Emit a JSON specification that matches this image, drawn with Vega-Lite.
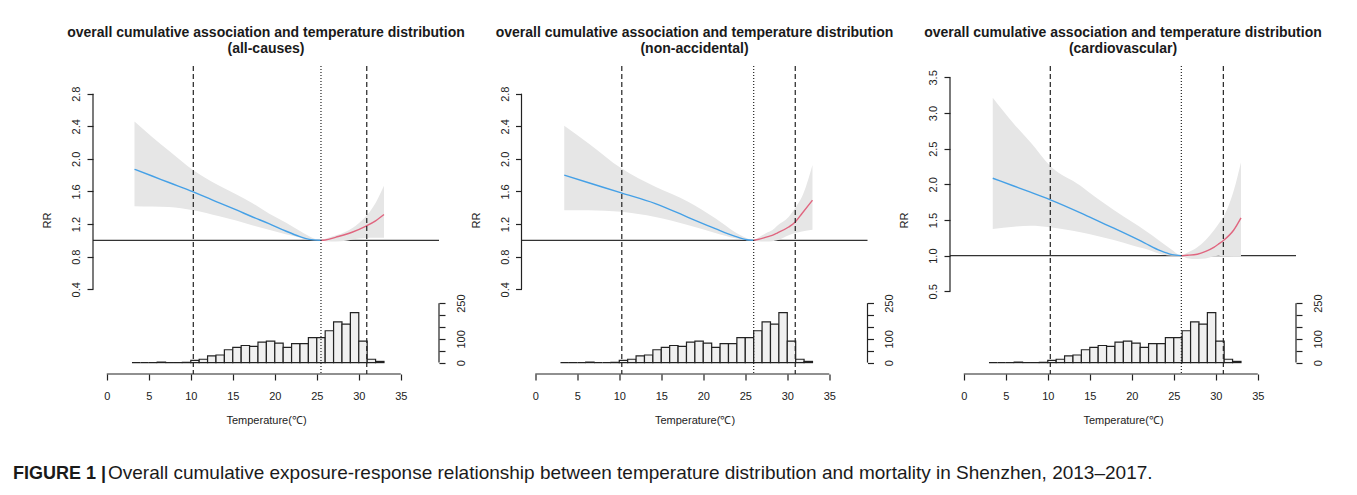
{
  "$schema": "https://vega.github.io/schema/vega-lite/v6.json",
  "padding": {"left": 13, "top": 26, "right": 5, "bottom": 5},
  "datasets": {
    "hist": [
      {"b0": 3, "b1": 4, "n": 0}, {"b0": 4, "b1": 5, "n": 0}, {"b0": 5, "b1": 6, "n": 0},
      {"b0": 6, "b1": 7, "n": 2}, {"b0": 7, "b1": 8, "n": 0}, {"b0": 8, "b1": 9, "n": 0},
      {"b0": 9, "b1": 10, "n": 1}, {"b0": 10, "b1": 11, "n": 9}, {"b0": 11, "b1": 12, "n": 14},
      {"b0": 12, "b1": 13, "n": 28}, {"b0": 13, "b1": 14, "n": 32}, {"b0": 14, "b1": 15, "n": 54},
      {"b0": 15, "b1": 16, "n": 64}, {"b0": 16, "b1": 17, "n": 72}, {"b0": 17, "b1": 18, "n": 68},
      {"b0": 18, "b1": 19, "n": 86}, {"b0": 19, "b1": 20, "n": 90}, {"b0": 20, "b1": 21, "n": 82},
      {"b0": 21, "b1": 22, "n": 64}, {"b0": 22, "b1": 23, "n": 80}, {"b0": 23, "b1": 24, "n": 80},
      {"b0": 24, "b1": 25, "n": 105}, {"b0": 25, "b1": 26, "n": 105}, {"b0": 26, "b1": 27, "n": 134},
      {"b0": 27, "b1": 28, "n": 171}, {"b0": 28, "b1": 29, "n": 162}, {"b0": 29, "b1": 30, "n": 210},
      {"b0": 30, "b1": 31, "n": 90}, {"b0": 31, "b1": 32, "n": 14}, {"b0": 32, "b1": 33, "n": 5}
    ],
    "vl": [
      {"p": "a", "t": 10.3, "k": "dash"}, {"p": "a", "t": 30.95, "k": "dash"}, {"p": "a", "t": 25.5, "k": "dot"},
      {"p": "b", "t": 10.3, "k": "dash"}, {"p": "b", "t": 30.95, "k": "dash"}, {"p": "b", "t": 26.0, "k": "dot"},
      {"p": "c", "t": 10.3, "k": "dash"}, {"p": "c", "t": 30.9, "k": "dash"}, {"p": "c", "t": 25.9, "k": "dot"}
    ],
    "curve": [
      {"p": "a", "t": 3.3, "rr": 1.872, "lo": 1.42, "hi": 2.46, "s": "c"},
      {"p": "a", "t": 5.4, "rr": 1.79, "lo": 1.415, "hi": 2.27, "s": "c"},
      {"p": "a", "t": 7.4, "rr": 1.71, "lo": 1.41, "hi": 2.1, "s": "c"},
      {"p": "a", "t": 10.3, "rr": 1.596, "lo": 1.37, "hi": 1.86, "s": "c"},
      {"p": "a", "t": 13.4, "rr": 1.46, "lo": 1.296, "hi": 1.67, "s": "c"},
      {"p": "a", "t": 15.5, "rr": 1.37, "lo": 1.24, "hi": 1.56, "s": "c"},
      {"p": "a", "t": 17.3, "rr": 1.29, "lo": 1.185, "hi": 1.46, "s": "c"},
      {"p": "a", "t": 19.3, "rr": 1.206, "lo": 1.13, "hi": 1.33, "s": "c"},
      {"p": "a", "t": 21.3, "rr": 1.115, "lo": 1.074, "hi": 1.22, "s": "c"},
      {"p": "a", "t": 22.9, "rr": 1.05, "lo": 1.035, "hi": 1.12, "s": "c"},
      {"p": "a", "t": 24.1, "rr": 1.012, "lo": 1.005, "hi": 1.05, "s": "c"},
      {"p": "a", "t": 25.5, "rr": 1.0, "lo": 1.0, "hi": 1.0, "s": "m"},
      {"p": "a", "t": 26.0, "rr": 1.005, "lo": 0.99, "hi": 1.02, "s": "h"},
      {"p": "a", "t": 27.3, "rr": 1.04, "lo": 0.985, "hi": 1.062, "s": "h"},
      {"p": "a", "t": 28.5, "rr": 1.075, "lo": 0.995, "hi": 1.11, "s": "h"},
      {"p": "a", "t": 29.2, "rr": 1.1, "lo": 1.01, "hi": 1.15, "s": "h"},
      {"p": "a", "t": 30.8, "rr": 1.173, "lo": 1.03, "hi": 1.29, "s": "h"},
      {"p": "a", "t": 32.0, "rr": 1.24, "lo": 1.033, "hi": 1.46, "s": "h"},
      {"p": "a", "t": 33.0, "rr": 1.317, "lo": 1.033, "hi": 1.67, "s": "h"},
      {"p": "b", "t": 3.45, "rr": 1.8, "lo": 1.37, "hi": 2.406, "s": "c"},
      {"p": "b", "t": 6.35, "rr": 1.707, "lo": 1.37, "hi": 2.19, "s": "c"},
      {"p": "b", "t": 10.24, "rr": 1.583, "lo": 1.35, "hi": 1.884, "s": "c"},
      {"p": "b", "t": 14.29, "rr": 1.452, "lo": 1.287, "hi": 1.657, "s": "c"},
      {"p": "b", "t": 18.25, "rr": 1.28, "lo": 1.185, "hi": 1.472, "s": "c"},
      {"p": "b", "t": 21.43, "rr": 1.144, "lo": 1.09, "hi": 1.27, "s": "c"},
      {"p": "b", "t": 23.8, "rr": 1.05, "lo": 1.025, "hi": 1.1, "s": "c"},
      {"p": "b", "t": 25.2, "rr": 1.008, "lo": 1.003, "hi": 1.025, "s": "c"},
      {"p": "b", "t": 26.0, "rr": 1.0, "lo": 1.0, "hi": 1.0, "s": "m"},
      {"p": "b", "t": 26.5, "rr": 1.01, "lo": 0.99, "hi": 1.03, "s": "h"},
      {"p": "b", "t": 27.5, "rr": 1.04, "lo": 0.985, "hi": 1.09, "s": "h"},
      {"p": "b", "t": 28.2, "rr": 1.062, "lo": 0.99, "hi": 1.123, "s": "h"},
      {"p": "b", "t": 28.8, "rr": 1.09, "lo": 1.0, "hi": 1.18, "s": "h"},
      {"p": "b", "t": 30.16, "rr": 1.164, "lo": 1.062, "hi": 1.287, "s": "h"},
      {"p": "b", "t": 30.95, "rr": 1.226, "lo": 1.09, "hi": 1.4, "s": "h"},
      {"p": "b", "t": 31.75, "rr": 1.33, "lo": 1.11, "hi": 1.534, "s": "h"},
      {"p": "b", "t": 33.0, "rr": 1.493, "lo": 1.13, "hi": 1.925, "s": "h"},
      {"p": "c", "t": 3.45, "rr": 2.086, "lo": 1.375, "hi": 3.215, "s": "c"},
      {"p": "c", "t": 5.95, "rr": 1.977, "lo": 1.407, "hi": 2.85, "s": "c"},
      {"p": "c", "t": 7.94, "rr": 1.89, "lo": 1.42, "hi": 2.59, "s": "c"},
      {"p": "c", "t": 10.24, "rr": 1.787, "lo": 1.4, "hi": 2.264, "s": "c"},
      {"p": "c", "t": 13.9, "rr": 1.6, "lo": 1.328, "hi": 1.98, "s": "c"},
      {"p": "c", "t": 15.9, "rr": 1.49, "lo": 1.275, "hi": 1.8, "s": "c"},
      {"p": "c", "t": 17.86, "rr": 1.385, "lo": 1.22, "hi": 1.64, "s": "c"},
      {"p": "c", "t": 20.2, "rr": 1.255, "lo": 1.14, "hi": 1.46, "s": "c"},
      {"p": "c", "t": 21.5, "rr": 1.18, "lo": 1.1, "hi": 1.36, "s": "c"},
      {"p": "c", "t": 23.4, "rr": 1.07, "lo": 1.024, "hi": 1.2, "s": "c"},
      {"p": "c", "t": 24.8, "rr": 1.014, "lo": 1.0, "hi": 1.08, "s": "c"},
      {"p": "c", "t": 25.9, "rr": 1.0, "lo": 1.0, "hi": 1.0, "s": "m"},
      {"p": "c", "t": 26.6, "rr": 1.005, "lo": 0.965, "hi": 1.04, "s": "h"},
      {"p": "c", "t": 27.8, "rr": 1.02, "lo": 0.953, "hi": 1.117, "s": "h"},
      {"p": "c", "t": 28.8, "rr": 1.06, "lo": 0.96, "hi": 1.22, "s": "h"},
      {"p": "c", "t": 29.76, "rr": 1.117, "lo": 0.99, "hi": 1.351, "s": "h"},
      {"p": "c", "t": 30.3, "rr": 1.16, "lo": 1.0, "hi": 1.44, "s": "h"},
      {"p": "c", "t": 30.88, "rr": 1.21, "lo": 0.99, "hi": 1.538, "s": "h"},
      {"p": "c", "t": 32.14, "rr": 1.36, "lo": 0.985, "hi": 1.913, "s": "h"},
      {"p": "c", "t": 33.0, "rr": 1.53, "lo": 0.985, "hi": 2.31, "s": "h"}
    ]
  },
  "columns": 3,
  "bounds": "flush",
  "align": "none",
  "spacing": {"row": 104, "column": 82.5},
  "concat": [
    {
      "width": 346, "height": 308,
      "title": {"text": ["overall cumulative association and temperature distribution", "(all-causes)"]},
      "layer": [
        {"layer": [
          {"data": {"name": "hist"},
           "mark": {"type": "rect", "fill": "#f0f0f0", "stroke": "#222222", "strokeWidth": 1.2},
           "encoding": {
             "x": {"field": "b0", "type": "quantitative", "scale": {"domain": [-1.64, 39.55], "nice": false, "zero": false},
                   "axis": {"values": [0, 5, 10, 15, 20, 25, 30, 35], "format": "d", "labelPadding": 10, "title": "Temperature(℃)", "titlePadding": 13, "labelFlush": false, "labelOverlap": false}},
             "x2": {"field": "b1"},
             "y": {"field": "n", "type": "quantitative", "scale": {"domain": [-48, 1248], "nice": false, "zero": false},
                   "axis": {"orient": "right", "values": [0, 50, 100, 150, 200, 250], "labelExpr": "datum.value == 0 || datum.value == 100 || datum.value == 250 ? datum.label : ''", "labelAngle": 270, "labelAlign": "center", "labelBaseline": "top", "labelPadding": 10, "title": null, "labelOverlap": false}},
             "y2": {"datum": 0}
           }},
          {"data": {"values": [{}]}, "mark": {"type": "rule", "color": "#222222", "strokeWidth": 1.2},
           "encoding": {"x": {"datum": 39.55}, "y": {"datum": 0}, "y2": {"datum": 250}}}
        ]},
        {"layer": [
          {"data": {"values": [{}]}, "mark": {"type": "rule", "color": "#333333", "strokeWidth": 1.2},
           "encoding": {"y": {"datum": 1, "type": "quantitative", "scale": {"domain": [-0.64, 3.14], "nice": false, "zero": false},
             "axis": {"orient": "left", "values": [0.4, 0.8, 1.2, 1.6, 2.0, 2.4, 2.8], "format": ".1f", "labelAngle": 270, "labelAlign": "center", "labelBaseline": "bottom", "labelPadding": 5.5, "title": "RR", "titlePadding": 18, "labelOverlap": false}}}},
          {"data": {"name": "curve"}, "transform": [{"filter": "datum.p == 'a'"}],
           "mark": {"type": "area", "fill": "#e6e6e6", "interpolate": "monotone"},
           "encoding": {"x": {"field": "t", "type": "quantitative"}, "y": {"field": "lo", "type": "quantitative"}, "y2": {"field": "hi"}}},
          {"data": {"name": "curve"}, "transform": [{"filter": "datum.p == 'a' && datum.s != 'h'"}],
           "mark": {"type": "line", "color": "#45a0e6", "strokeWidth": 1.4, "interpolate": "monotone"},
           "encoding": {"x": {"field": "t", "type": "quantitative"}, "y": {"field": "rr", "type": "quantitative"}}},
          {"data": {"name": "curve"}, "transform": [{"filter": "datum.p == 'a' && datum.s != 'c'"}],
           "mark": {"type": "line", "color": "#e0657f", "strokeWidth": 1.4, "interpolate": "monotone"},
           "encoding": {"x": {"field": "t", "type": "quantitative"}, "y": {"field": "rr", "type": "quantitative"}}},
          {"data": {"name": "vl"}, "transform": [{"filter": "datum.p == 'a' && datum.k == 'dash'"}],
           "mark": {"type": "rule", "color": "#222222", "strokeWidth": 1.2, "strokeDash": [5, 3]},
           "encoding": {"x": {"field": "t", "type": "quantitative"}}},
          {"data": {"name": "vl"}, "transform": [{"filter": "datum.p == 'a' && datum.k == 'dot'"}],
           "mark": {"type": "rule", "color": "#222222", "strokeWidth": 1.2, "strokeDash": [1, 2]},
           "encoding": {"x": {"field": "t", "type": "quantitative"}}},
          {"data": {"values": [{}]}, "mark": {"type": "rule", "color": "#222222", "strokeWidth": 1.2},
           "encoding": {"x": {"datum": -1.64}, "y": {"datum": 0.4}, "y2": {"datum": 2.8}}},
          {"data": {"values": [{}]}, "mark": {"type": "rule", "color": "#222222", "strokeWidth": 1.2},
           "encoding": {"x": {"datum": 0}, "x2": {"datum": 35}, "y": {"datum": -0.64}}}
        ]}
      ],
      "resolve": {"scale": {"y": "independent"}}
    },
    {
      "width": 346, "height": 308,
      "title": {"text": ["overall cumulative association and temperature distribution", "(non-accidental)"]},
      "layer": [
        {"layer": [
          {"data": {"name": "hist"},
           "mark": {"type": "rect", "fill": "#f0f0f0", "stroke": "#222222", "strokeWidth": 1.2},
           "encoding": {
             "x": {"field": "b0", "type": "quantitative", "scale": {"domain": [-1.64, 39.55], "nice": false, "zero": false},
                   "axis": {"values": [0, 5, 10, 15, 20, 25, 30, 35], "format": "d", "labelPadding": 10, "title": "Temperature(℃)", "titlePadding": 13, "labelFlush": false, "labelOverlap": false}},
             "x2": {"field": "b1"},
             "y": {"field": "n", "type": "quantitative", "scale": {"domain": [-48, 1248], "nice": false, "zero": false},
                   "axis": {"orient": "right", "values": [0, 50, 100, 150, 200, 250], "labelExpr": "datum.value == 0 || datum.value == 100 || datum.value == 250 ? datum.label : ''", "labelAngle": 270, "labelAlign": "center", "labelBaseline": "top", "labelPadding": 10, "title": null, "labelOverlap": false}},
             "y2": {"datum": 0}
           }},
          {"data": {"values": [{}]}, "mark": {"type": "rule", "color": "#222222", "strokeWidth": 1.2},
           "encoding": {"x": {"datum": 39.55}, "y": {"datum": 0}, "y2": {"datum": 250}}}
        ]},
        {"layer": [
          {"data": {"values": [{}]}, "mark": {"type": "rule", "color": "#333333", "strokeWidth": 1.2},
           "encoding": {"y": {"datum": 1, "type": "quantitative", "scale": {"domain": [-0.64, 3.14], "nice": false, "zero": false},
             "axis": {"orient": "left", "values": [0.4, 0.8, 1.2, 1.6, 2.0, 2.4, 2.8], "format": ".1f", "labelAngle": 270, "labelAlign": "center", "labelBaseline": "bottom", "labelPadding": 5.5, "title": "RR", "titlePadding": 18, "labelOverlap": false}}}},
          {"data": {"name": "curve"}, "transform": [{"filter": "datum.p == 'b'"}],
           "mark": {"type": "area", "fill": "#e6e6e6", "interpolate": "monotone"},
           "encoding": {"x": {"field": "t", "type": "quantitative"}, "y": {"field": "lo", "type": "quantitative"}, "y2": {"field": "hi"}}},
          {"data": {"name": "curve"}, "transform": [{"filter": "datum.p == 'b' && datum.s != 'h'"}],
           "mark": {"type": "line", "color": "#45a0e6", "strokeWidth": 1.4, "interpolate": "monotone"},
           "encoding": {"x": {"field": "t", "type": "quantitative"}, "y": {"field": "rr", "type": "quantitative"}}},
          {"data": {"name": "curve"}, "transform": [{"filter": "datum.p == 'b' && datum.s != 'c'"}],
           "mark": {"type": "line", "color": "#e0657f", "strokeWidth": 1.4, "interpolate": "monotone"},
           "encoding": {"x": {"field": "t", "type": "quantitative"}, "y": {"field": "rr", "type": "quantitative"}}},
          {"data": {"name": "vl"}, "transform": [{"filter": "datum.p == 'b' && datum.k == 'dash'"}],
           "mark": {"type": "rule", "color": "#222222", "strokeWidth": 1.2, "strokeDash": [5, 3]},
           "encoding": {"x": {"field": "t", "type": "quantitative"}}},
          {"data": {"name": "vl"}, "transform": [{"filter": "datum.p == 'b' && datum.k == 'dot'"}],
           "mark": {"type": "rule", "color": "#222222", "strokeWidth": 1.2, "strokeDash": [1, 2]},
           "encoding": {"x": {"field": "t", "type": "quantitative"}}},
          {"data": {"values": [{}]}, "mark": {"type": "rule", "color": "#222222", "strokeWidth": 1.2},
           "encoding": {"x": {"datum": -1.64}, "y": {"datum": 0.4}, "y2": {"datum": 2.8}}},
          {"data": {"values": [{}]}, "mark": {"type": "rule", "color": "#222222", "strokeWidth": 1.2},
           "encoding": {"x": {"datum": 0}, "x2": {"datum": 35}, "y": {"datum": -0.64}}}
        ]}
      ],
      "resolve": {"scale": {"y": "independent"}}
    },
    {
      "width": 346, "height": 308,
      "title": {"text": ["overall cumulative association and temperature distribution", "(cardiovascular)"]},
      "layer": [
        {"layer": [
          {"data": {"name": "hist"},
           "mark": {"type": "rect", "fill": "#f0f0f0", "stroke": "#222222", "strokeWidth": 1.2},
           "encoding": {
             "x": {"field": "b0", "type": "quantitative", "scale": {"domain": [-1.64, 39.55], "nice": false, "zero": false},
                   "axis": {"values": [0, 5, 10, 15, 20, 25, 30, 35], "format": "d", "labelPadding": 10, "title": "Temperature(℃)", "titlePadding": 13, "labelFlush": false, "labelOverlap": false}},
             "x2": {"field": "b1"},
             "y": {"field": "n", "type": "quantitative", "scale": {"domain": [-48, 1248], "nice": false, "zero": false},
                   "axis": {"orient": "right", "values": [0, 50, 100, 150, 200, 250], "labelExpr": "datum.value == 0 || datum.value == 100 || datum.value == 250 ? datum.label : ''", "labelAngle": 270, "labelAlign": "center", "labelBaseline": "top", "labelPadding": 10, "title": null, "labelOverlap": false}},
             "y2": {"datum": 0}
           }},
          {"data": {"values": [{}]}, "mark": {"type": "rule", "color": "#222222", "strokeWidth": 1.2},
           "encoding": {"x": {"datum": 39.55}, "y": {"datum": 0}, "y2": {"datum": 250}}}
        ]},
        {"layer": [
          {"data": {"values": [{}]}, "mark": {"type": "rule", "color": "#333333", "strokeWidth": 1.2},
           "encoding": {"y": {"datum": 1, "type": "quantitative", "scale": {"domain": [-0.66, 3.66], "nice": false, "zero": false},
             "axis": {"orient": "left", "values": [0.5, 1.0, 1.5, 2.0, 2.5, 3.0, 3.5], "format": ".1f", "labelAngle": 270, "labelAlign": "center", "labelBaseline": "bottom", "labelPadding": 5.5, "title": "RR", "titlePadding": 18, "labelOverlap": false}}}},
          {"data": {"name": "curve"}, "transform": [{"filter": "datum.p == 'c'"}],
           "mark": {"type": "area", "fill": "#e6e6e6", "interpolate": "monotone"},
           "encoding": {"x": {"field": "t", "type": "quantitative"}, "y": {"field": "lo", "type": "quantitative"}, "y2": {"field": "hi"}}},
          {"data": {"name": "curve"}, "transform": [{"filter": "datum.p == 'c' && datum.s != 'h'"}],
           "mark": {"type": "line", "color": "#45a0e6", "strokeWidth": 1.4, "interpolate": "monotone"},
           "encoding": {"x": {"field": "t", "type": "quantitative"}, "y": {"field": "rr", "type": "quantitative"}}},
          {"data": {"name": "curve"}, "transform": [{"filter": "datum.p == 'c' && datum.s != 'c'"}],
           "mark": {"type": "line", "color": "#e0657f", "strokeWidth": 1.4, "interpolate": "monotone"},
           "encoding": {"x": {"field": "t", "type": "quantitative"}, "y": {"field": "rr", "type": "quantitative"}}},
          {"data": {"name": "vl"}, "transform": [{"filter": "datum.p == 'c' && datum.k == 'dash'"}],
           "mark": {"type": "rule", "color": "#222222", "strokeWidth": 1.2, "strokeDash": [5, 3]},
           "encoding": {"x": {"field": "t", "type": "quantitative"}}},
          {"data": {"name": "vl"}, "transform": [{"filter": "datum.p == 'c' && datum.k == 'dot'"}],
           "mark": {"type": "rule", "color": "#222222", "strokeWidth": 1.2, "strokeDash": [1, 2]},
           "encoding": {"x": {"field": "t", "type": "quantitative"}}},
          {"data": {"values": [{}]}, "mark": {"type": "rule", "color": "#222222", "strokeWidth": 1.2},
           "encoding": {"x": {"datum": -1.64}, "y": {"datum": 0.5}, "y2": {"datum": 3.5}}},
          {"data": {"values": [{}]}, "mark": {"type": "rule", "color": "#222222", "strokeWidth": 1.2},
           "encoding": {"x": {"datum": 0}, "x2": {"datum": 35}, "y": {"datum": -0.66}}}
        ]}
      ],
      "resolve": {"scale": {"y": "independent"}}
    },
    {"width": 1, "height": 1, "data": {"values": []}, "mark": "point", "encoding": {},
     "title": {"text": "FIGURE 1 |", "orient": "bottom", "anchor": "start", "frame": "group", "offset": 0, "dx": -80, "baseline": "alphabetic", "fontSize": 18, "fontWeight": "bold", "lineHeight": 20}},
    {"width": 1, "height": 1, "data": {"values": []}, "mark": "point", "encoding": {},
     "title": {"text": "Overall cumulative exposure-response relationship between temperature distribution and mortality in Shenzhen, 2013–2017.", "orient": "bottom", "anchor": "start", "frame": "group", "offset": 0, "dx": -413.5, "baseline": "alphabetic", "fontSize": 19, "fontWeight": "normal", "lineHeight": 20}}
  ],
  "config": {
    "font": "Liberation Sans",
    "view": {"stroke": null},
    "axis": {"domain": false, "grid": false, "tickColor": "#222222", "tickWidth": 1.2, "tickSize": 6, "labelFont": "Liberation Sans", "labelFontSize": 11, "labelColor": "#222222", "titleFont": "Liberation Sans", "titleFontSize": 11, "titleFontWeight": "normal", "titleColor": "#222222"},
    "title": {"font": "Liberation Sans", "fontSize": 14, "fontWeight": "bold", "color": "#1a1a1a", "anchor": "middle", "frame": "group", "offset": 9, "lineHeight": 16}
  }
}
